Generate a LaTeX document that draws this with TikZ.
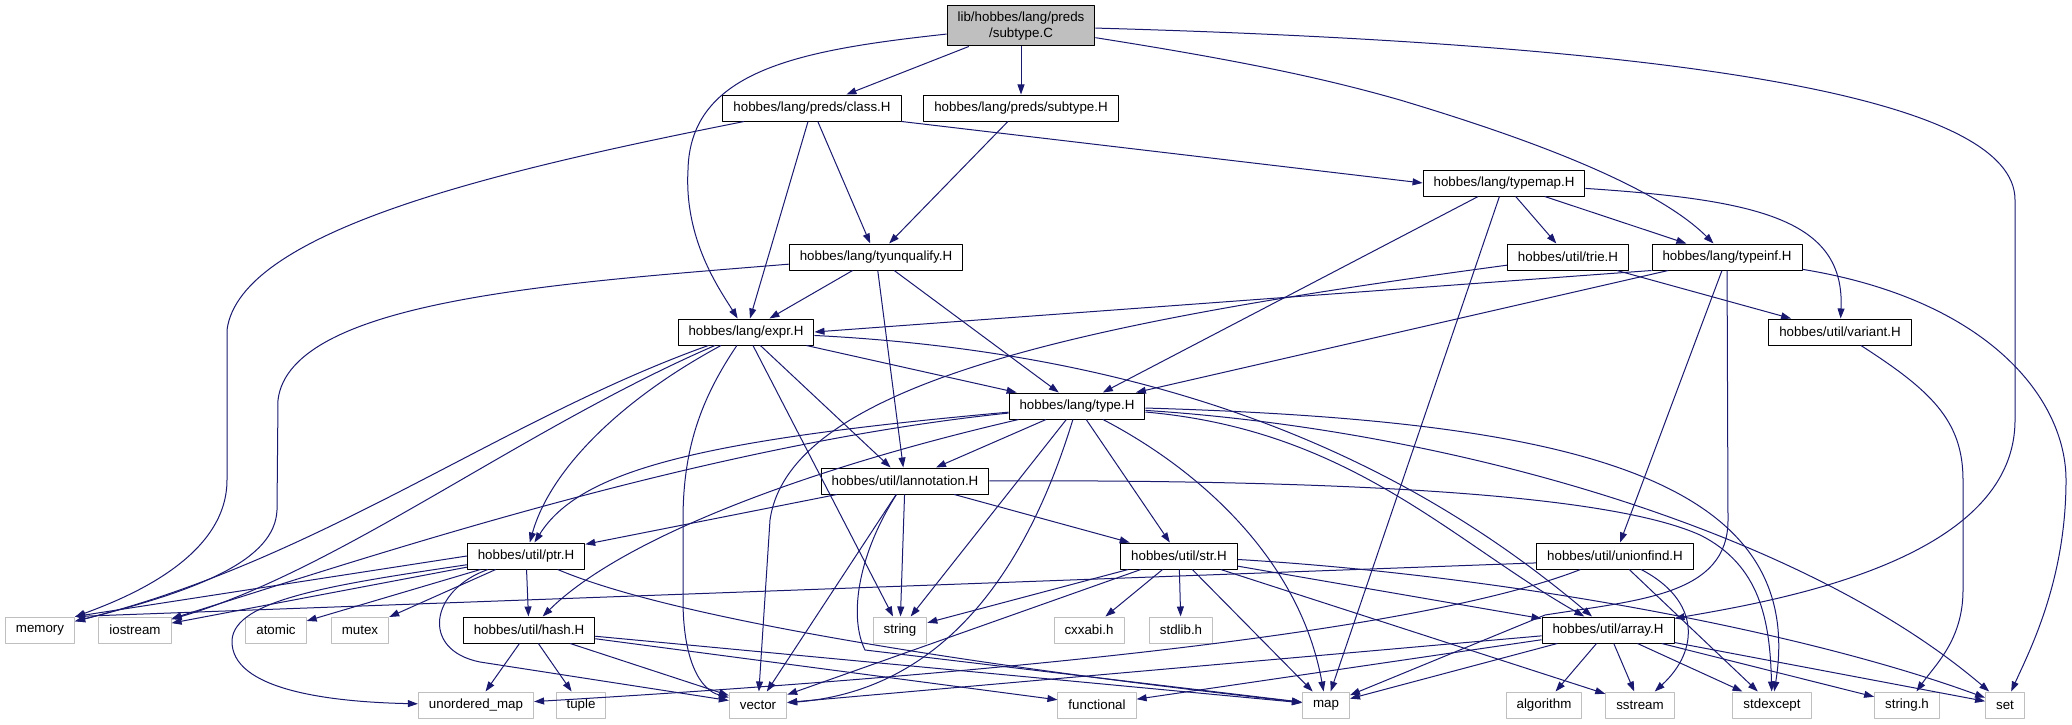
\documentclass[tikz,border=0pt]{standalone}
\usepackage{fontspec}
\setmainfont{Liberation Sans}
\usetikzlibrary{arrows.meta}
\definecolor{edgeblue}{HTML}{191970}
\definecolor{sysgray}{HTML}{BFBFBF}
\begin{document}
\begin{tikzpicture}[x=0.75pt,y=-0.75pt,line join=round,>={Triangle[length=7.5pt,width=5.2pt]},
	hfile/.style={draw=black,fill=white,line width=0.75pt,inner xsep=7.9pt,inner ysep=1pt,minimum height=19.5pt,font=\fontsize{10}{12}\selectfont},
	sysfile/.style={hfile,draw=sysgray},
	srcfile/.style={hfile,fill=sysgray,align=center,minimum height=30pt},
	dep/.style={->,draw=edgeblue,line width=0.75pt}]
	\useasboundingbox (0,0) rectangle (2072,724);
	\node[srcfile] (root) at (1021,26) {lib/hobbes/lang/preds\\/subtype.C};
	\node[hfile] (class) at (812,108) {hobbes/lang/preds/class.H};
	\node[hfile] (subtypeH) at (1021,108) {hobbes/lang/preds/subtype.H};
	\node[hfile] (typemap) at (1504,183) {hobbes/lang/typemap.H};
	\node[hfile] (tyunq) at (876,257) {hobbes/lang/tyunqualify.H};
	\node[hfile] (trie) at (1568,257) {hobbes/util/trie.H};
	\node[hfile] (typeinf) at (1727,257) {hobbes/lang/typeinf.H};
	\node[hfile] (expr) at (746,332) {hobbes/lang/expr.H};
	\node[hfile] (variant) at (1840,332) {hobbes/util/variant.H};
	\node[hfile] (type) at (1077,406) {hobbes/lang/type.H};
	\node[hfile] (lannot) at (905,481) {hobbes/util/lannotation.H};
	\node[hfile] (ptr) at (526,556) {hobbes/util/ptr.H};
	\node[hfile] (str) at (1179,556) {hobbes/util/str.H};
	\node[hfile] (unionfind) at (1615,556) {hobbes/util/unionfind.H};
	\node[hfile] (hash) at (529,630) {hobbes/util/hash.H};
	\node[hfile] (array) at (1608,630) {hobbes/util/array.H};
	\node[sysfile] (memory) at (40,630) {memory};
	\node[sysfile] (iostream) at (135,630) {iostream};
	\node[sysfile] (atomic) at (276,630) {atomic};
	\node[sysfile] (mutex) at (360,630) {mutex};
	\node[sysfile] (string) at (900,630) {string};
	\node[sysfile] (cxxabi) at (1089,630) {cxxabi.h};
	\node[sysfile] (stdlib) at (1181,630) {stdlib.h};
	\node[sysfile] (umap) at (476,705) {unordered\_map};
	\node[sysfile] (tuple) at (581,705) {tuple};
	\node[sysfile] (vector) at (758,705) {vector};
	\node[sysfile] (functional) at (1097,705) {functional};
	\node[sysfile] (map) at (1326,705) {map};
	\node[sysfile] (algorithm) at (1544,705) {algorithm};
	\node[sysfile] (sstream) at (1640,705) {sstream};
	\node[sysfile] (stdexcept) at (1772,705) {stdexcept};
	\node[sysfile] (stringh) at (1907,705) {string.h};
	\node[sysfile] (set) at (2005,705) {set};
	\foreach \a/\b in {root/class,root/subtypeH,class/expr,class/tyunq,subtypeH/tyunq,
		typemap/type,typemap/map,typemap/trie,typemap/typeinf,trie/variant,typeinf/type,typeinf/unionfind,
		tyunq/expr,tyunq/lannot,tyunq/type,expr/type,expr/lannot,expr/string,
		type/lannot,type/str,type/string,lannot/ptr,lannot/str,lannot/string,lannot/vector,
		ptr/iostream,ptr/atomic,ptr/mutex,ptr/hash,hash/umap,hash/tuple,hash/vector,hash/functional,hash/map,
		str/string,str/cxxabi,str/stdlib,str/vector,str/map,str/sstream,str/array,unionfind/stdexcept,
		array/vector,array/functional,array/map,array/algorithm,array/sstream,array/stdexcept,array/stringh,array/set}
		\draw[dep] (\a) -- (\b);
	\draw[dep] (class.south east) -- (typemap.west);
	\draw[dep] (typeinf.south west) -- (expr.east);
	\draw[dep] (ptr.west) -- (memory.north east);
	\draw[dep] (unionfind.185) -- (memory.north east);
	\draw[dep] (root) .. controls (800,50) and (690,70) .. (688,170) .. controls (684,240) and (720,290) .. (expr);
	\draw[dep] (root) .. controls (1250,62) and (1330,80) .. (1400,100) .. controls (1500,130) and (1650,180) .. (typeinf);
	\draw[dep] (root) .. controls (1700,45) and (2015,100) .. (2015,200) -- (2015,420) .. controls (2015,560) and (1780,600) .. (array);
	\draw[dep] (class) .. controls (500,170) and (240,230) .. (227,330) -- (227,480) .. controls (227,560) and (120,600) .. (memory);
	\draw[dep] (tyunq) .. controls (560,283) and (290,300) .. (278,400) -- (277,510) .. controls (275,560) and (200,590) .. (memory);
	\draw[dep] (typemap) .. controls (1760,200) and (1845,220) .. (variant);
	\draw[dep] (trie) .. controls (1100,320) and (790,380) .. (770,520) -- (vector);
	\draw[dep] (typeinf) -- (1728,520) .. controls (1728,595) and (1640,600) .. (1545,615) -- (map);
	\draw[dep] (typeinf) .. controls (1990,300) and (2066,400) .. (2066,480) .. controls (2066,580) and (2030,650) .. (set);
	\draw[dep] (variant) .. controls (1930,390) and (1963,420) .. (1963,480) -- (1963,590) .. controls (1963,640) and (1935,665) .. (stringh);
	\draw[dep] (expr) .. controls (620,400) and (550,470) .. (ptr);
	\draw[dep] (expr) .. controls (500,420) and (320,560) .. (memory);
	\draw[dep] (expr) .. controls (520,430) and (340,570) .. (iostream);
	\draw[dep] (expr) .. controls (700,400) and (683,450) .. (683,520) -- (683,600) .. controls (683,660) and (700,690) .. (vector);
	\draw[dep] (expr) .. controls (1200,355) and (1430,480) .. (array);
	\draw[dep] (type) .. controls (700,445) and (360,560) .. (iostream);
	\draw[dep] (type) .. controls (700,440) and (580,470) .. (ptr);
	\draw[dep] (type) .. controls (800,470) and (620,540) .. (hash);
	\draw[dep] (type) .. controls (1030,560) and (950,690) .. (vector);
	\draw[dep] (type) .. controls (1200,470) and (1300,560) .. (map);
	\draw[dep] (type) .. controls (1350,430) and (1450,540) .. (array);
	\draw[dep] (type) .. controls (1550,420) and (1810,470) .. (stdexcept);
	\draw[dep] (type) .. controls (1450,430) and (1800,530) .. (set);
	\draw[dep] (lannot) .. controls (855,560) and (850,620) .. (865,650) -- (map);
	\draw[dep] (lannot) .. controls (1300,480) and (1600,490) .. (1700,535) .. controls (1760,565) and (1770,620) .. (stdexcept);
	\draw[dep] (ptr) .. controls (700,630) and (1100,680) .. (map);
	\draw[dep] (ptr) .. controls (430,590) and (420,650) .. (480,662) -- (vector);
	\draw[dep] (ptr) .. controls (330,585) and (235,600) .. (232,640) .. controls (230,690) and (330,702) .. (umap);
	\draw[dep] (str) .. controls (1500,575) and (1800,630) .. (set);
	\draw[dep] (unionfind) .. controls (1400,640) and (900,680) .. (umap);
	\draw[dep] (unionfind) .. controls (1700,600) and (1700,650) .. (sstream);
\end{tikzpicture}
\end{document}
